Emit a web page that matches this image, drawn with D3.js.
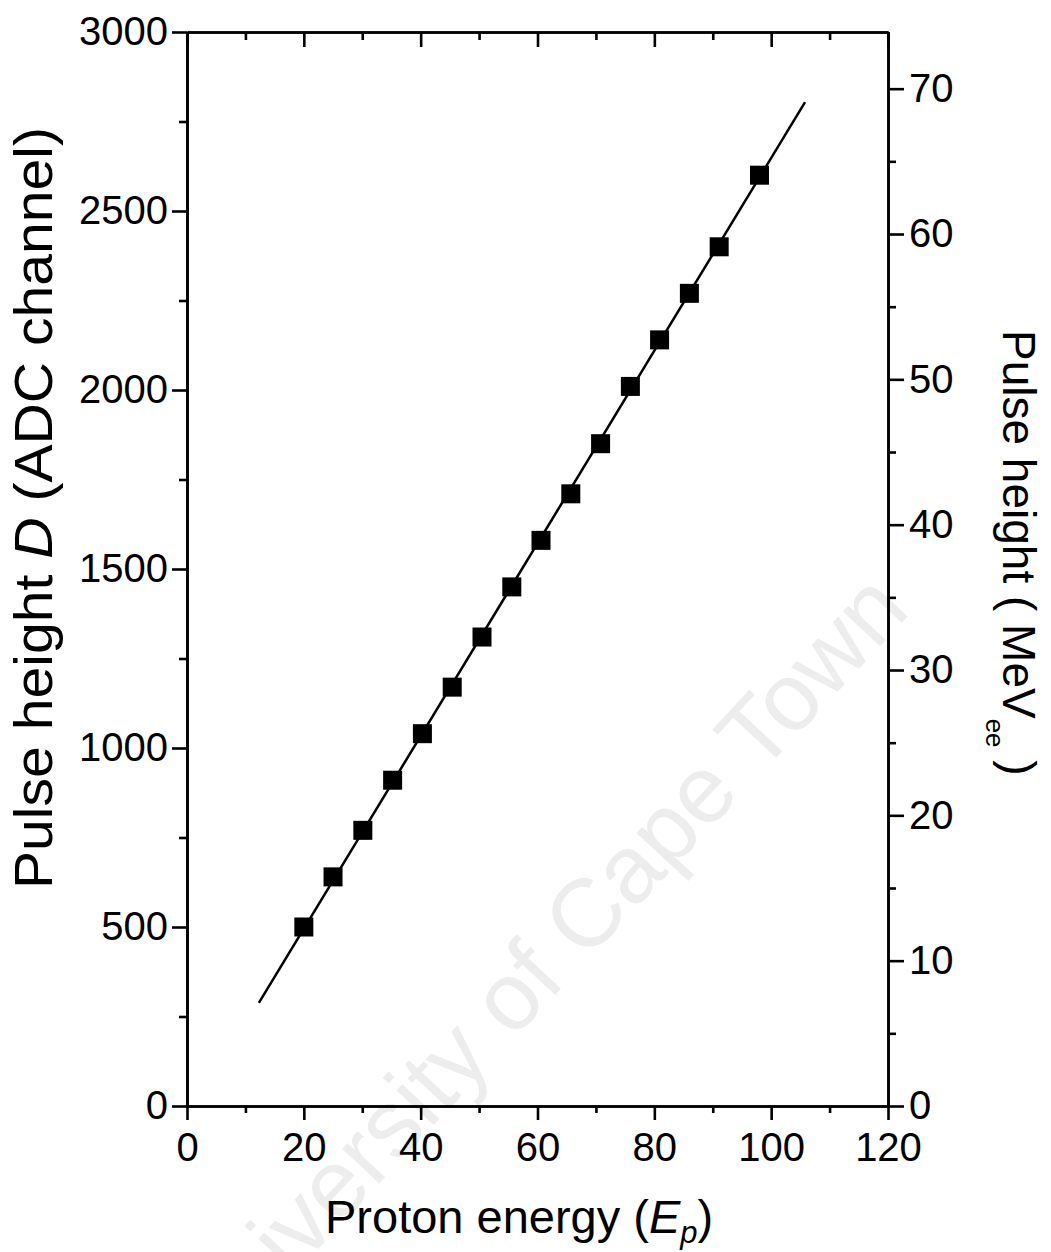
<!DOCTYPE html>
<html>
<head>
<meta charset="utf-8">
<script src="https://cdn.jsdelivr.net/npm/d3@7"></script>
<style>
  body { margin: 0; background: #fff; }
  svg { display: block; font-family: "Liberation Sans", Arial, sans-serif; }
  .tick text { font-size: 40px; fill: #000; }
  .axis path, .axis line { stroke: #000; stroke-width: 2.6px; }
</style>
</head>
<body>
<div id="chart"></div>
<script>
// proton energy (x) and pulse height in ADC channels (y)
const energy = [20, 25, 30.1, 35.2, 40.3, 45.4, 50.5, 55.6, 60.6, 65.7, 70.8, 75.9, 80.9, 86.0, 91.1, 98.0];
const pulse = [500, 640, 770, 910, 1040, 1170, 1310, 1450, 1580, 1710, 1850, 2010, 2140, 2270, 2400, 2600];
// linear fit endpoints
const fitEnergy = [12.3, 105.8];
const fitPulse = [288, 2804];

const xMajor = [0, 20, 40, 60, 80, 100, 120];
const xMinor = [10, 30, 50, 70, 90, 110];
const yMajor = [0, 500, 1000, 1500, 2000, 2500, 3000];
const yMinor = [250, 750, 1250, 1750, 2250, 2750];
const rMajor = [0, 10, 20, 30, 40, 50, 60, 70];
const rMinor = [5, 15, 25, 35, 45, 55, 65];

const w = 1051, h = 1252;
const padL = 187, padR = 888, padT = 32, padB = 1106;

const svg = d3.select('#chart').append('svg')
  .attr('width', w)
  .attr('height', h);

// faint scan watermark
svg.append('text')
  .attr('transform', 'translate(912,612) rotate(-47)')
  .attr('text-anchor', 'end')
  .attr('font-size', 96)
  .attr('fill', '#ededed')
  .text('University of Cape Town');

const x = d3.scaleLinear().domain([0, 120]).range([padL, padR]);
const y = d3.scaleLinear().domain([0, 3000]).range([padB, padT]);
const yR = d3.scaleLinear().domain([0, 73.9]).range([padB, padT]);

// bottom axis
svg.append('g').attr('class', 'axis')
  .attr('transform', 'translate(0,' + padB + ')')
  .call(d3.axisBottom(x).tickValues(xMajor).tickSize(14).tickSizeOuter(0).tickPadding(13).tickFormat(d3.format('d')));
svg.append('g').attr('class', 'axis')
  .attr('transform', 'translate(0,' + padB + ')')
  .call(d3.axisBottom(x).tickValues(xMinor).tickSize(7).tickSizeOuter(0).tickFormat(''));

// top axis, ticks pointing inward
svg.append('g').attr('class', 'axis')
  .attr('transform', 'translate(0,' + padT + ')')
  .call(d3.axisBottom(x).tickValues(xMajor).tickSize(15).tickSizeOuter(0).tickFormat(''));
svg.append('g').attr('class', 'axis')
  .attr('transform', 'translate(0,' + padT + ')')
  .call(d3.axisBottom(x).tickValues(xMinor).tickSize(8).tickSizeOuter(0).tickFormat(''));

// left axis
svg.append('g').attr('class', 'axis')
  .attr('transform', 'translate(' + padL + ',0)')
  .call(d3.axisLeft(y).tickValues(yMajor).tickSize(15).tickSizeOuter(0).tickPadding(4).tickFormat(d3.format('d')));
svg.append('g').attr('class', 'axis')
  .attr('transform', 'translate(' + padL + ',0)')
  .call(d3.axisLeft(y).tickValues(yMinor).tickSize(8).tickSizeOuter(0).tickFormat(''));

// right axis (MeVee)
svg.append('g').attr('class', 'axis')
  .attr('transform', 'translate(' + padR + ',0)')
  .call(d3.axisRight(yR).tickValues(rMajor).tickSize(16).tickSizeOuter(0).tickPadding(5).tickFormat(d3.format('d')));
svg.append('g').attr('class', 'axis')
  .attr('transform', 'translate(' + padR + ',0)')
  .call(d3.axisRight(yR).tickValues(rMinor).tickSize(8).tickSizeOuter(0).tickFormat(''));

// fit line
const fit = fitEnergy.map((e, i) => [e, fitPulse[i]]);
svg.append('path')
  .datum(fit)
  .attr('fill', 'none')
  .attr('stroke', '#000')
  .attr('stroke-width', 2.5)
  .attr('d', d3.line().x(d => x(d[0])).y(d => y(d[1])));

// data squares
const sq = 19;
svg.selectAll('rect.pt')
  .data(energy.map((e, i) => ({ e: e, p: pulse[i] })))
  .enter()
  .append('rect')
  .attr('class', 'pt')
  .attr('x', d => x(d.e) - sq / 2)
  .attr('y', d => y(d.p) - sq / 2)
  .attr('width', sq)
  .attr('height', sq)
  .attr('fill', '#000');

// x title
const xt = svg.append('text')
  .attr('x', 325)
  .attr('y', 1233)
  .attr('font-size', 47);
xt.append('tspan').text('Proton energy (');
xt.append('tspan').attr('font-style', 'italic').text('E');
xt.append('tspan').attr('font-style', 'italic').attr('font-size', 31).attr('dy', 10).text('p');
xt.append('tspan').attr('dy', -10).text(')');

// left title
const lt = svg.append('text')
  .attr('transform', 'translate(52,508) rotate(-90)')
  .attr('text-anchor', 'middle')
  .attr('font-size', 54)
  .attr('textLength', 762)
  .attr('lengthAdjust', 'spacingAndGlyphs');
lt.append('tspan').text('Pulse height ');
lt.append('tspan').attr('font-style', 'italic').text('D');
lt.append('tspan').text(' (ADC channel)');

// right title
const rt = svg.append('text')
  .attr('transform', 'translate(1003,330) rotate(90)')
  .attr('font-size', 46);
rt.append('tspan').text('Pulse height ( MeV');
rt.append('tspan').attr('font-size', 26).attr('dy', 17).text('ee');
rt.append('tspan').attr('dy', -17).text(' )');
</script>
</body>
</html>
